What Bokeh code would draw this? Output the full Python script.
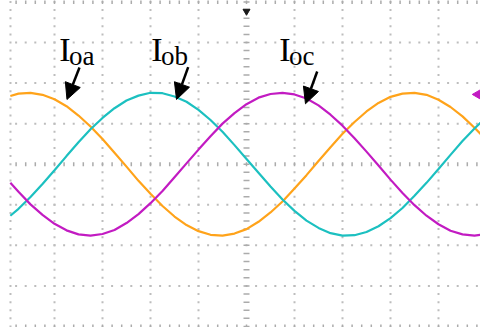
import numpy as np
from bokeh.plotting import figure
from bokeh.models import Range1d, Arrow, NormalHead
from bokeh.core.properties import value
from bokeh.embed import file_html
from bokeh.resources import INLINE

# ---- sampled output currents (x and y in screen divisions) ----
t_div = [-4.92, -4.75, -4.5, -4.25, -4.0, -3.75, -3.5, -3.25, -3.0, -2.75,
         -2.5, -2.25, -2.0, -1.75, -1.5, -1.25, -1.0, -0.75, -0.5, -0.25,
         0.0, 0.25, 0.5, 0.75, 1.0, 1.25, 1.5, 1.75, 2.0, 2.25,
         2.5, 2.75, 3.0, 3.25, 3.5, 3.75, 4.0, 4.25, 4.5, 4.75, 5.0]

i_oa = [1.68, 1.74, 1.76, 1.71, 1.60, 1.43, 1.20, 0.93, 0.62, 0.28,
        -0.06, -0.41, -0.73, -1.03, -1.29, -1.50, -1.65, -1.74, -1.76, -1.71,
        -1.60, -1.42, -1.19, -0.92, -0.60, -0.27, 0.08, 0.42, 0.75, 1.04,
        1.30, 1.51, 1.66, 1.74, 1.76, 1.71, 1.59, 1.41, 1.18, 0.90, 0.59]

i_ob = [-1.27, -1.10, -0.81, -0.49, -0.15, 0.20, 0.54, 0.86, 1.14, 1.38,
        1.57, 1.69, 1.76, 1.75, 1.67, 1.54, 1.34, 1.09, 0.80, 0.47,
        0.13, -0.21, -0.55, -0.87, -1.15, -1.39, -1.57, -1.70, -1.76, -1.75,
        -1.67, -1.53, -1.33, -1.08, -0.78, -0.46, -0.12, 0.23, 0.57, 0.88, 1.16]

i_oc = [-0.46, -0.68, -0.99, -1.25, -1.47, -1.63, -1.73, -1.76, -1.72, -1.62,
        -1.45, -1.23, -0.96, -0.66, -0.32, 0.02, 0.36, 0.69, 1.00, 1.26,
        1.48, 1.64, 1.73, 1.76, 1.72, 1.62, 1.45, 1.22, 0.95, 0.64,
        0.31, -0.03, -0.38, -0.71, -1.01, -1.27, -1.48, -1.64, -1.73, -1.76, -1.72]

label_main = ["I", "I", "I"]
label_sub = ["oa", "ob", "oc"]

# ---- styling ----
C_A = "#FFA31A"
C_B = "#1CC0C0"
C_C = "#C21BC2"
GRID = "#BDBDBD"
TICK = "#ABABAB"

p = figure(width=480, height=327,
           x_range=Range1d(-5.125, 4.875), y_range=Range1d(-4.025, 4.035),
           x_axis_type=None, y_axis_type=None,
           toolbar_location=None, output_backend="svg",
           min_border=0, outline_line_color=None,
           background_fill_color="white", border_fill_color="white")

# dotted graticule
dot_y = np.round(np.arange(-4.0, 4.001, 0.2), 3)
dot_x = np.round(np.arange(-4.8, 4.9, 0.2), 3)
v_lines = [-4.917, -4, -3, -2, -1, 1, 2, 3, 4]
h_lines = [-3, -2, -1, 1, 2, 3]
vx, vy = np.meshgrid(v_lines, dot_y)
p.scatter(vx.ravel(), vy.ravel(), marker="square", size=2,
          fill_color=GRID, line_color=None)
hx, hy = np.meshgrid(dot_x, h_lines)
p.scatter(hx.ravel(), hy.ravel(), marker="square", size=2,
          fill_color=GRID, line_color=None)

# centre cross and border tick marks
p.scatter(np.zeros_like(dot_y), dot_y, marker="dash", size=6,
          line_color=TICK, line_width=1.5)
for yb in (0.0, -4.0, 4.0):
    p.scatter(dot_x, np.full_like(dot_x, yb), marker="dash", angle=np.pi / 2,
              size=4, line_color=TICK, line_width=1.5)

# waveforms
p.line(t_div, i_oa, line_color=C_A, line_width=2.2)
p.line(t_div, i_ob, line_color=C_B, line_width=2.2)
p.line(t_div, i_oc, line_color=C_C, line_width=2.2)

# trigger position and level markers
p.scatter([0], [3.77], marker="inverted_triangle", size=7,
          fill_color="#1a1a1a", line_color="#1a1a1a")
p.scatter([4.86], [1.72], marker="triangle", angle=np.pi / 2, size=13,
          fill_color=C_C, line_color=C_C)

# labels
p.text(x=[-3.90, -1.984, 0.683], y=[2.835] * 3, text=label_main,
       text_font=value("Liberation Serif"), text_font_size="34px",
       text_baseline="alphabetic", text_align="left", text_color="black")
p.text(x=[-3.698, -1.782, 0.885], y=[2.67] * 3, text=label_sub,
       text_font=value("Liberation Serif"), text_font_size="27px",
       text_baseline="alphabetic", text_align="left", text_color="black")

# arrows pointing from each label to its waveform
arrow_paths = [(-3.479, 2.383, -3.740, 1.595),
               (-1.215, 2.391, -1.458, 1.595),
               (1.473, 2.285, 1.229, 1.489)]
for x0, y0, x1, y1 in arrow_paths:
    p.add_layout(Arrow(end=NormalHead(size=16, fill_color="black",
                                      line_color="black"),
                       x_start=x0, y_start=y0, x_end=x1, y_end=y1,
                       line_width=2.5, line_color="black"))

open("out.html", "w").write(file_html(p, INLINE))
